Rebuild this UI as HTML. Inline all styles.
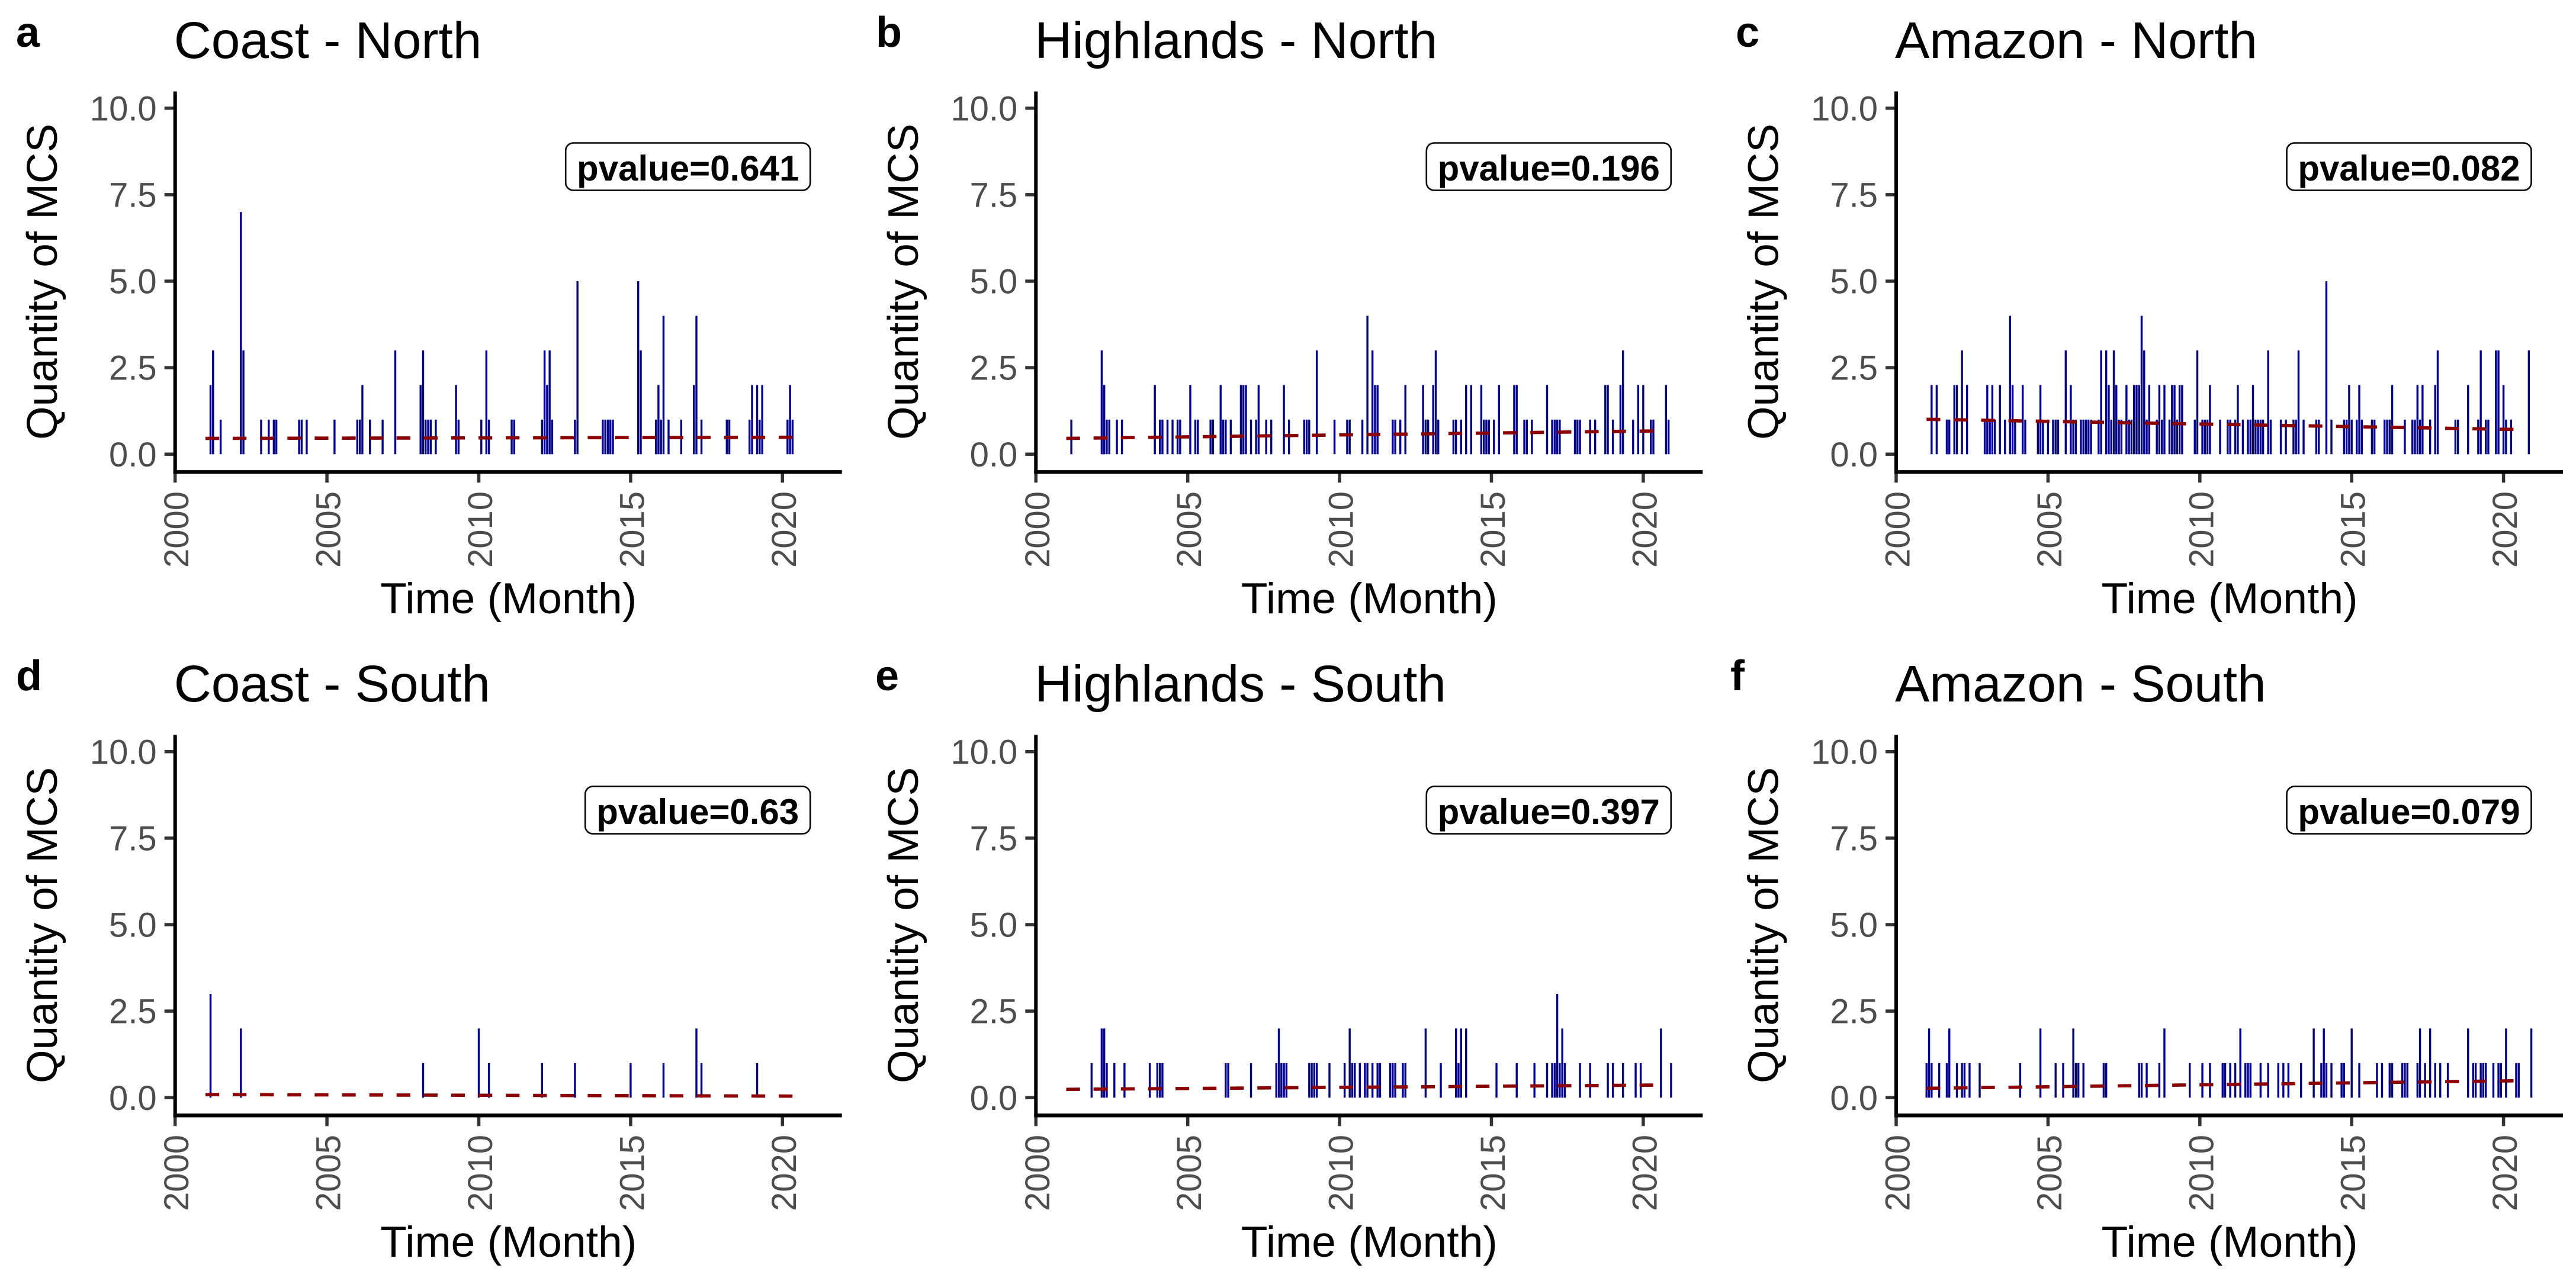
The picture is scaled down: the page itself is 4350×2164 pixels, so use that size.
<!DOCTYPE html>
<html lang="en">
<head>
<meta charset="utf-8">
<title>Quantity of MCS by region</title>
<style>
html,body{margin:0;padding:0;background:#fff;}
svg{display:block;font-family:"Liberation Sans",Arial,sans-serif;}
.title{font-size:87.4px;fill:#000;}
.axis-title{font-size:73.3px;fill:#000;text-anchor:middle;}
.y-title{font-size:72.8px;}
.letter{font-size:72px;font-weight:bold;fill:#000;}
.pval{font-size:60px;font-weight:bold;fill:#000;text-anchor:middle;}
.pbox{fill:#fff;stroke:#000;stroke-width:2.6;}
.tick-label{font-size:58px;fill:#4D4D4D;}
</style>
</head>
<body>
<svg id="figure" xmlns="http://www.w3.org/2000/svg" width="4350" height="2164" viewBox="0 0 4350 2164">
  <rect x="0" y="0" width="4350" height="2164" fill="#fff"/>

  <text class="letter" x="27" y="79">a</text>
  <text class="letter" x="1479" y="79">b</text>
  <text class="letter" x="2931" y="79">c</text>
  <text class="letter" x="27" y="1166">d</text>
  <text class="letter" x="1478" y="1166">e</text>
  <text class="letter" x="2922" y="1166">f</text>

  <g id="panel-a" transform="translate(295.7,0)">
    <text class="title" x="-2" y="98">Coast - North</text>
    <text class="axis-title y-title" transform="translate(-199.5,476) rotate(-90)">Quantity of MCS</text>
    <text class="axis-title" x="563" y="1036">Time (Month)</text>
    <g class="marks"></g>
    <rect class="pbox" x="659.5" y="241.5" width="413" height="80" rx="13" ry="13"/>
    <text class="pval" x="866" y="305">pvalue=0.641</text>
  </g>

  <g id="panel-b" transform="translate(1749.3,0)">
    <text class="title" x="-2" y="98">Highlands - North</text>
    <text class="axis-title y-title" transform="translate(-199.5,476) rotate(-90)">Quantity of MCS</text>
    <text class="axis-title" x="563" y="1036">Time (Month)</text>
    <g class="marks"></g>
    <rect class="pbox" x="659.5" y="241.5" width="413" height="80" rx="13" ry="13"/>
    <text class="pval" x="866" y="305">pvalue=0.196</text>
  </g>

  <g id="panel-c" transform="translate(3202,0)">
    <text class="title" x="-2" y="98">Amazon - North</text>
    <text class="axis-title y-title" transform="translate(-199.5,476) rotate(-90)">Quantity of MCS</text>
    <text class="axis-title" x="563" y="1036">Time (Month)</text>
    <g class="marks"></g>
    <rect class="pbox" x="659.5" y="241.5" width="413" height="80" rx="13" ry="13"/>
    <text class="pval" x="866" y="305">pvalue=0.082</text>
  </g>

  <g id="panel-d" transform="translate(295.7,1087)">
    <text class="title" x="-2" y="98">Coast - South</text>
    <text class="axis-title y-title" transform="translate(-199.5,476) rotate(-90)">Quantity of MCS</text>
    <text class="axis-title" x="563" y="1036">Time (Month)</text>
    <g class="marks"></g>
    <rect class="pbox" x="692.5" y="241.5" width="380" height="80" rx="13" ry="13"/>
    <text class="pval" x="882.5" y="305">pvalue=0.63</text>
  </g>

  <g id="panel-e" transform="translate(1749.3,1087)">
    <text class="title" x="-2" y="98">Highlands - South</text>
    <text class="axis-title y-title" transform="translate(-199.5,476) rotate(-90)">Quantity of MCS</text>
    <text class="axis-title" x="563" y="1036">Time (Month)</text>
    <g class="marks"></g>
    <rect class="pbox" x="659.5" y="241.5" width="413" height="80" rx="13" ry="13"/>
    <text class="pval" x="866" y="305">pvalue=0.397</text>
  </g>

  <g id="panel-f" transform="translate(3202,1087)">
    <text class="title" x="-2" y="98">Amazon - South</text>
    <text class="axis-title y-title" transform="translate(-199.5,476) rotate(-90)">Quantity of MCS</text>
    <text class="axis-title" x="563" y="1036">Time (Month)</text>
    <g class="marks"></g>
    <rect class="pbox" x="659.5" y="241.5" width="413" height="80" rx="13" ry="13"/>
    <text class="pval" x="866" y="305">pvalue=0.079</text>
  </g>
</svg>

<script>
// Tick labels
const xTickYears = [2000, 2005, 2010, 2015, 2020];
const yTickValues = [0, 2.5, 5, 7.5, 10];

// Months are counted from January 2001 (0 = 2001-01)
const coastNorthMonths = [2,3,6,14,15,22,25,27,28,37,38,40,51,60,61,62,65,70,75,85,86,87,88,89,91,99,100,109,111,112,121,122,133,134,135,136,137,146,147,157,158,159,160,161,171,172,178,179,180,181,183,188,193,194,196,206,207,215,216,218,219,220,230,231,232];
const coastNorthCounts = [2,3,1,7,3,1,1,1,1,1,1,1,1,1,1,2,1,1,3,2,3,1,1,1,1,2,1,1,3,1,1,1,1,3,2,3,1,1,5,1,1,1,1,1,5,3,1,2,1,4,1,1,2,4,1,1,1,1,2,2,1,2,1,2,1];
const coastNorthTrend = [0.457, 0.49];

const highlandsNorthMonths = [2,14,15,16,17,20,22,35,37,38,40,42,44,45,49,51,52,57,58,61,62,63,65,69,70,71,73,75,76,79,81,86,88,94,95,96,99,106,111,112,117,119,121,122,123,129,130,132,134,141,142,143,145,146,147,153,154,156,158,160,164,165,166,167,169,171,177,178,181,182,184,190,192,193,194,195,201,202,203,207,209,213,214,216,219,220,224,226,228,231,232,237,238];
const highlandsNorthCounts = [1,3,2,1,1,1,1,2,1,1,1,1,1,1,2,1,1,1,1,2,1,1,1,2,2,2,1,1,2,1,1,2,1,1,1,1,3,1,1,1,1,4,3,2,2,1,1,1,2,2,1,1,2,3,1,1,1,1,2,2,2,1,1,1,1,2,2,2,1,1,1,2,1,1,1,1,1,1,1,1,1,2,2,1,2,3,1,2,2,1,1,2,1];
const highlandsNorthTrend = [0.457, 0.674];

const amazonNorthMonths = [2,4,8,9,11,12,14,16,23,24,25,26,27,29,31,33,34,35,38,39,44,45,46,48,50,51,52,55,57,58,59,61,62,63,64,65,68,69,71,72,73,74,75,76,77,79,80,81,82,83,84,85,86,87,88,91,92,93,94,96,97,98,99,100,101,106,107,109,110,111,112,116,119,120,122,123,125,127,128,129,130,131,132,133,135,136,140,142,145,146,147,149,154,155,158,160,165,166,167,168,170,171,172,176,177,181,182,183,184,189,192,193,194,195,196,199,201,202,209,210,214,218,219,221,222,225,226,228,229,231,238];
const amazonNorthCounts = [2,2,1,1,2,2,3,2,1,2,1,2,1,2,1,4,2,1,2,1,1,2,1,1,1,1,1,3,2,1,1,1,1,1,1,1,1,3,3,2,1,3,2,1,1,2,1,1,2,2,2,4,3,1,2,1,2,1,2,1,2,2,1,2,2,1,3,1,1,1,2,1,1,1,1,2,1,1,1,2,1,1,1,1,3,1,1,1,1,1,3,1,1,1,5,1,1,1,2,1,1,2,1,1,1,1,1,1,2,1,1,1,2,1,2,1,2,3,1,1,2,1,3,1,1,3,3,2,1,1,3];
const amazonNorthTrend = [1.01, 0.713];

const coastSouthMonths = [2,14,86,108,112,133,146,168,181,194,196,218];
const coastSouthCounts = [3,2,1,2,1,1,1,1,1,2,1,1];
const coastSouthTrend = [0.09, 0.045];

const highlandsSouthMonths = [10,14,15,16,19,23,33,36,37,38,63,64,73,83,84,85,86,87,96,97,98,99,104,110,112,113,114,116,118,119,121,123,124,128,129,130,133,134,142,148,154,155,156,158,170,178,185,190,192,193,194,195,196,197,203,207,214,216,220,225,227,235,239];
const highlandsSouthCounts = [1,2,2,1,1,1,1,1,1,1,1,1,1,1,2,1,1,1,1,1,1,1,1,1,2,1,1,1,1,1,1,1,1,1,1,1,1,1,2,1,2,1,2,2,1,1,1,1,1,1,3,1,2,1,1,1,1,1,1,1,1,2,1];
const highlandsSouthTrend = [0.24, 0.365];

const amazonSouthMonths = [0,1,2,5,8,9,12,14,15,17,21,37,45,51,54,58,59,60,62,70,71,84,85,87,92,94,104,109,112,117,118,120,122,124,126,127,128,132,135,139,141,143,148,153,156,157,158,160,164,165,168,171,178,180,183,184,188,189,190,194,195,197,199,201,203,206,214,216,217,219,220,221,224,226,227,229,233,234,239];
const amazonSouthCounts = [1,2,1,1,1,2,1,1,1,1,1,1,2,1,1,2,1,1,1,1,1,1,1,1,1,2,1,1,1,1,1,1,1,2,1,1,1,1,1,1,1,1,1,2,1,2,1,1,1,1,2,1,1,1,1,1,1,1,1,1,2,1,2,1,1,1,2,1,1,1,1,1,1,1,1,2,1,1,2];
const amazonSouthTrend = [0.27, 0.49];

const trendYears = [2001.0, 2020.5];

const SVG_NS = 'http://www.w3.org/2000/svg';
const Y_ZERO = 767.3;
const Y_UNIT = 58.45;
const X_UNIT = 51.28;
const AXIS_Y = 797.3;
const Y_AXIS_TOP = 154.5;
const X_AXIS_END = 1126;

function xYear(year) { return (year - 2000) * X_UNIT; }
function xMonth(month) { return xYear(2001 + month / 12); }
function yValue(value) { return Y_ZERO - value * Y_UNIT; }

function make(tag, parent) {
  const el = document.createElementNS(SVG_NS, tag);
  parent.appendChild(el);
  return el;
}

function drawPanel(panelId, months, counts, trend) {
  const g = document.querySelector('#' + panelId + ' .marks');

  months.forEach(function (m, i) {
    const bar = make('rect', g);
    
    
    bar.setAttribute('x', xMonth(m) - 1.7);
    bar.setAttribute('y', yValue(counts[i]));
    bar.setAttribute('width', 3.4);
    bar.setAttribute('height', yValue(0) - yValue(counts[i]));
    bar.setAttribute('fill', '#00008B');
  });

  const line = make('line', g);
  
  
  line.setAttribute('x1', xYear(trendYears[0]));
  line.setAttribute('x2', xYear(trendYears[1]));
  line.setAttribute('y1', yValue(trend[0]));
  line.setAttribute('y2', yValue(trend[1]));
  line.setAttribute('stroke', '#8B0000');
  line.setAttribute('stroke-width', 5.6);
  line.setAttribute('stroke-dasharray', '23.2 22.9');

  xTickYears.forEach(function (year) {
    const tick = make('line', g);
    
    
    tick.setAttribute('x1', xYear(year));
    tick.setAttribute('x2', xYear(year));
    tick.setAttribute('y1', AXIS_Y);
    tick.setAttribute('y2', AXIS_Y + 18);
    tick.setAttribute('stroke', '#333333');
    tick.setAttribute('stroke-width', 5.5);

    const label = make('text', g);
    
    
    label.setAttribute('class', 'tick-label');
    label.setAttribute('text-anchor', 'end');
    label.setAttribute('transform', 'translate(' + (xYear(year) + 22.5) + ',830) rotate(-90)');
    label.textContent = String(year);
  });

  yTickValues.forEach(function (value) {
    const tick = make('line', g);
    
    
    tick.setAttribute('x1', -18);
    tick.setAttribute('x2', 0);
    tick.setAttribute('y1', yValue(value));
    tick.setAttribute('y2', yValue(value));
    tick.setAttribute('stroke', '#333333');
    tick.setAttribute('stroke-width', 5.5);

    const label = make('text', g);
    
    
    label.setAttribute('class', 'tick-label');
    label.setAttribute('text-anchor', 'end');
    label.setAttribute('x', -31);
    label.setAttribute('y', yValue(value) + 20.5);
    label.textContent = value.toFixed(1);
  });

  const yAxis = make('line', g);
  
  
  yAxis.setAttribute('x1', 0);
  yAxis.setAttribute('x2', 0);
  yAxis.setAttribute('y1', Y_AXIS_TOP);
  yAxis.setAttribute('y2', AXIS_Y + 3);
  yAxis.setAttribute('stroke', '#000');
  yAxis.setAttribute('stroke-width', 6);

  const xAxis = make('line', g);
  
  
  xAxis.setAttribute('x1', -3);
  xAxis.setAttribute('x2', X_AXIS_END);
  xAxis.setAttribute('y1', AXIS_Y);
  xAxis.setAttribute('y2', AXIS_Y);
  xAxis.setAttribute('stroke', '#000');
  xAxis.setAttribute('stroke-width', 6.4);
}

drawPanel('panel-a', coastNorthMonths, coastNorthCounts, coastNorthTrend);
drawPanel('panel-b', highlandsNorthMonths, highlandsNorthCounts, highlandsNorthTrend);
drawPanel('panel-c', amazonNorthMonths, amazonNorthCounts, amazonNorthTrend);
drawPanel('panel-d', coastSouthMonths, coastSouthCounts, coastSouthTrend);
drawPanel('panel-e', highlandsSouthMonths, highlandsSouthCounts, highlandsSouthTrend);
drawPanel('panel-f', amazonSouthMonths, amazonSouthCounts, amazonSouthTrend);
</script>
</body>
</html>
